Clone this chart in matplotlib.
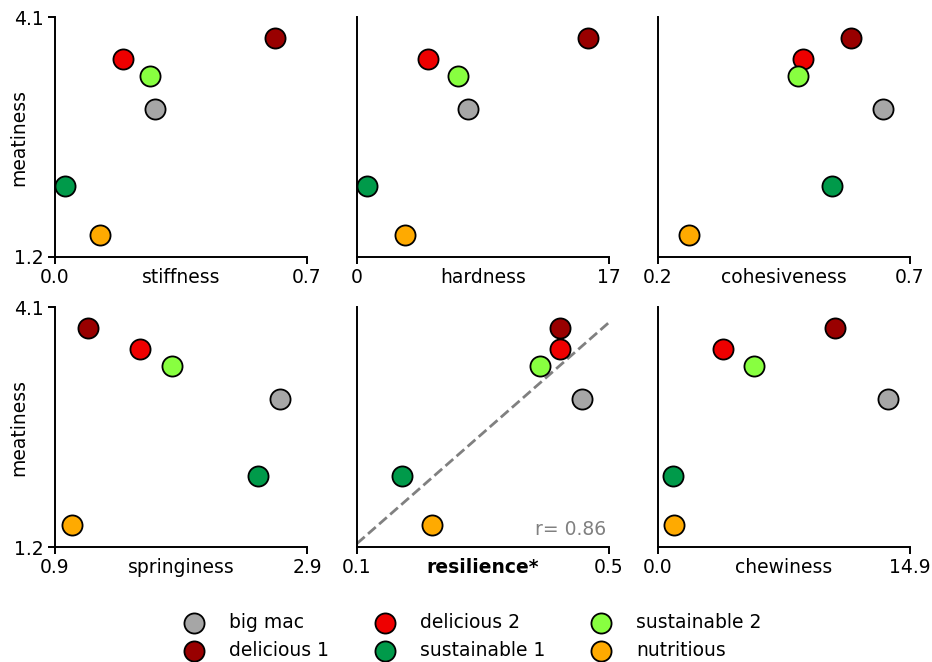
import matplotlib
matplotlib.use('Agg')
import matplotlib.pyplot as plt
import numpy as np

names = ['big mac', 'delicious 1', 'delicious 2', 'sustainable 1', 'sustainable 2', 'nutritious']
colors = ['#a6a6a6', '#990000', '#ee0000', '#009a4a', '#88ff40', '#ffaa00']

meatiness = [2.99, 3.85, 3.59, 2.06, 3.39, 1.47]

stiffness = [0.278, 0.611, 0.189, 0.028, 0.264, 0.125]
hardness = [7.52, 15.58, 4.81, 0.68, 6.84, 3.25]
cohesiveness = [0.646, 0.583, 0.488, 0.545, 0.478, 0.262]
springiness = [2.686, 1.162, 1.575, 2.511, 1.829, 1.035]
resilience = [0.457, 0.422, 0.422, 0.171, 0.391, 0.219]
chewiness = [13.60, 10.47, 3.84, 0.89, 5.68, 0.95]

features = ['stiffness', 'hardness', 'cohesiveness', 'springiness', 'resilience*', 'chewiness']
feature_values = [stiffness, hardness, cohesiveness, springiness, resilience, chewiness]
x_limits = [(0.0, 0.7), (0, 17), (0.2, 0.7), (0.9, 2.9), (0.1, 0.5), (0.0, 14.9)]
x_ticklabels = [('0.0', '0.7'), ('0', '17'), ('0.2', '0.7'), ('0.9', '2.9'), ('0.1', '0.5'), ('0.0', '14.9')]
y_limits = (1.2, 4.1)
y_ticklabels = ('1.2', '4.1')

fs = 13.5
fig = plt.figure(figsize=(9.32, 6.62), dpi=100)
lefts = [0.059, 0.383, 0.706]
bottoms = [0.6118, 0.1737]
w, h = 0.2704, 0.3625

for i in range(6):
    row, col = divmod(i, 3)
    ax = fig.add_axes([lefts[col], bottoms[row], w, h])
    xv = feature_values[i]
    for j in range(len(names)):
        ax.scatter(xv[j], meatiness[j], s=210, color=colors[j], edgecolor='black',
                   linewidth=1.3, zorder=3, clip_on=False, label=names[j])
    ax.set_xlim(*x_limits[i])
    ax.set_ylim(*y_limits)
    ax.spines['top'].set_visible(False)
    ax.spines['right'].set_visible(False)
    ax.spines['left'].set_linewidth(1.4)
    ax.spines['bottom'].set_linewidth(1.4)
    ax.set_xticks(x_limits[i])
    ax.set_xticklabels(x_ticklabels[i])
    ax.tick_params(axis='both', labelsize=fs, width=1.4, length=5, pad=3)
    if col == 0:
        ax.set_yticks(y_limits)
        ax.set_yticklabels(y_ticklabels)
        ax.set_ylabel('meatiness', fontsize=fs, labelpad=-10)
    else:
        ax.set_yticks([])
    weight = 'bold' if features[i] == 'resilience*' else 'normal'
    ax.set_xlabel(features[i], fontsize=fs, fontweight=weight)
    ax.xaxis.set_label_coords(0.5, -0.045)

    if features[i] == 'resilience*':
        slope, intercept = np.polyfit(xv, meatiness, 1)
        xs = np.array(x_limits[i])
        ax.plot(xs, slope * xs + intercept, '--', color='gray', linewidth=2, zorder=2)
        r = np.corrcoef(xv, meatiness)[0, 1]
        ax.text(0.99, 0.075, f'r= {r:.2f}', transform=ax.transAxes, ha='right', va='center',
                fontsize=fs, color='gray')
    if i == 0:
        handles, labels = ax.get_legend_handles_labels()

fig.legend(handles, labels, loc='lower center', bbox_to_anchor=(0.5025, -0.022), ncol=3,
           frameon=False, fontsize=fs, columnspacing=1.95, handletextpad=0.9, labelspacing=0.45)

fig.savefig('out.png', dpi=100)
